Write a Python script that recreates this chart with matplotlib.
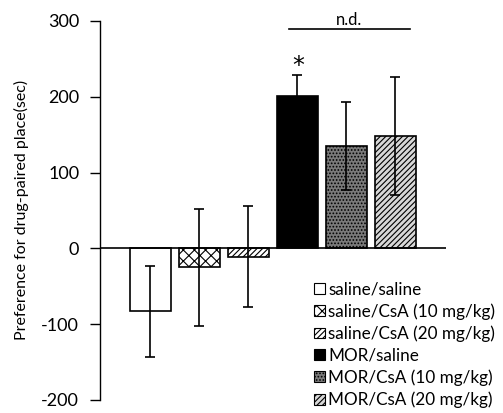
import matplotlib
matplotlib.use('Agg')
import matplotlib.pyplot as plt
from matplotlib.patches import Patch

plt.rcParams.update({
    'font.family': ['Lato', 'DejaVu Sans'],
    'font.size': 11,
    'hatch.linewidth': 0.8,
    'axes.unicode_minus': False,
})

groups = ['saline/saline', 'saline/CsA (10 mg/kg)', 'saline/CsA (20 mg/kg)',
          'MOR/saline', 'MOR/CsA (10 mg/kg)', 'MOR/CsA (20 mg/kg)']
means = [-83, -25, -11, 201, 135, 148]
errors = [60, 77, 67, 28, 58, 78]

faces = ['white', 'white', 'white', 'black', '#7a7a7a', '#d8d8d8']
hatches = [None, 'xxx', '//////', None, '.....', '//////']

fig = plt.figure(figsize=(5.03, 4.13), dpi=100)
ax = fig.add_axes([0.1988, 0.0315, 0.6879, 0.918])

xs = list(range(len(groups)))
for x, m, e, fc, h, lab in zip(xs, means, errors, faces, hatches, groups):
    ax.bar(x, m, width=0.84, color=fc, hatch=h, edgecolor='black',
           linewidth=0, zorder=2, label=lab)
    ax.bar(x, m, width=0.84, fill=False, edgecolor='black', linewidth=1.2, zorder=3)
    ax.errorbar(x, m, yerr=e, fmt='none', ecolor='black', elinewidth=1.2,
                capsize=3.5, capthick=1.2, zorder=4)

ax.axhline(0, color='black', linewidth=1.2, zorder=5)

ax.set_xlim(-1.03, 6.04)
ax.set_ylim(-200, 300)
ax.set_yticks([-200, -100, 0, 100, 200, 300])
ax.set_xticks([])
for s in ('top', 'right', 'bottom'):
    ax.spines[s].set_visible(False)
ax.spines['left'].set_linewidth(1.0)
ax.tick_params(axis='y', direction='out', length=7, width=1.0, pad=8, labelsize=13)

ax.set_ylabel('Preference for drug-paired place(sec)', fontsize=11.5)
ax.yaxis.set_label_coords(-0.205, 0.50)

# significance markers
ax.plot([2.83, 5.3], [289, 289], color='black', linewidth=1.2, clip_on=False)
ax.text(4.06, 291, 'n.d.', ha='center', va='bottom', fontsize=12)
ax.text(3.03, 224, '*', ha='center', va='bottom', fontsize=17,
        family='DejaVu Sans')

handles = [Patch(facecolor=fc, edgecolor='black', hatch=h, linewidth=0.8)
           for fc, h in zip(faces, hatches)]
fig.legend(handles, groups, loc='upper left', bbox_to_anchor=(0.625, 0.318),
           frameon=False, fontsize=12.3, handlelength=0.6, handleheight=0.6,
           handletextpad=0.2, labelspacing=0.33, borderpad=0, borderaxespad=0)

fig.savefig('out.png', dpi=100)
